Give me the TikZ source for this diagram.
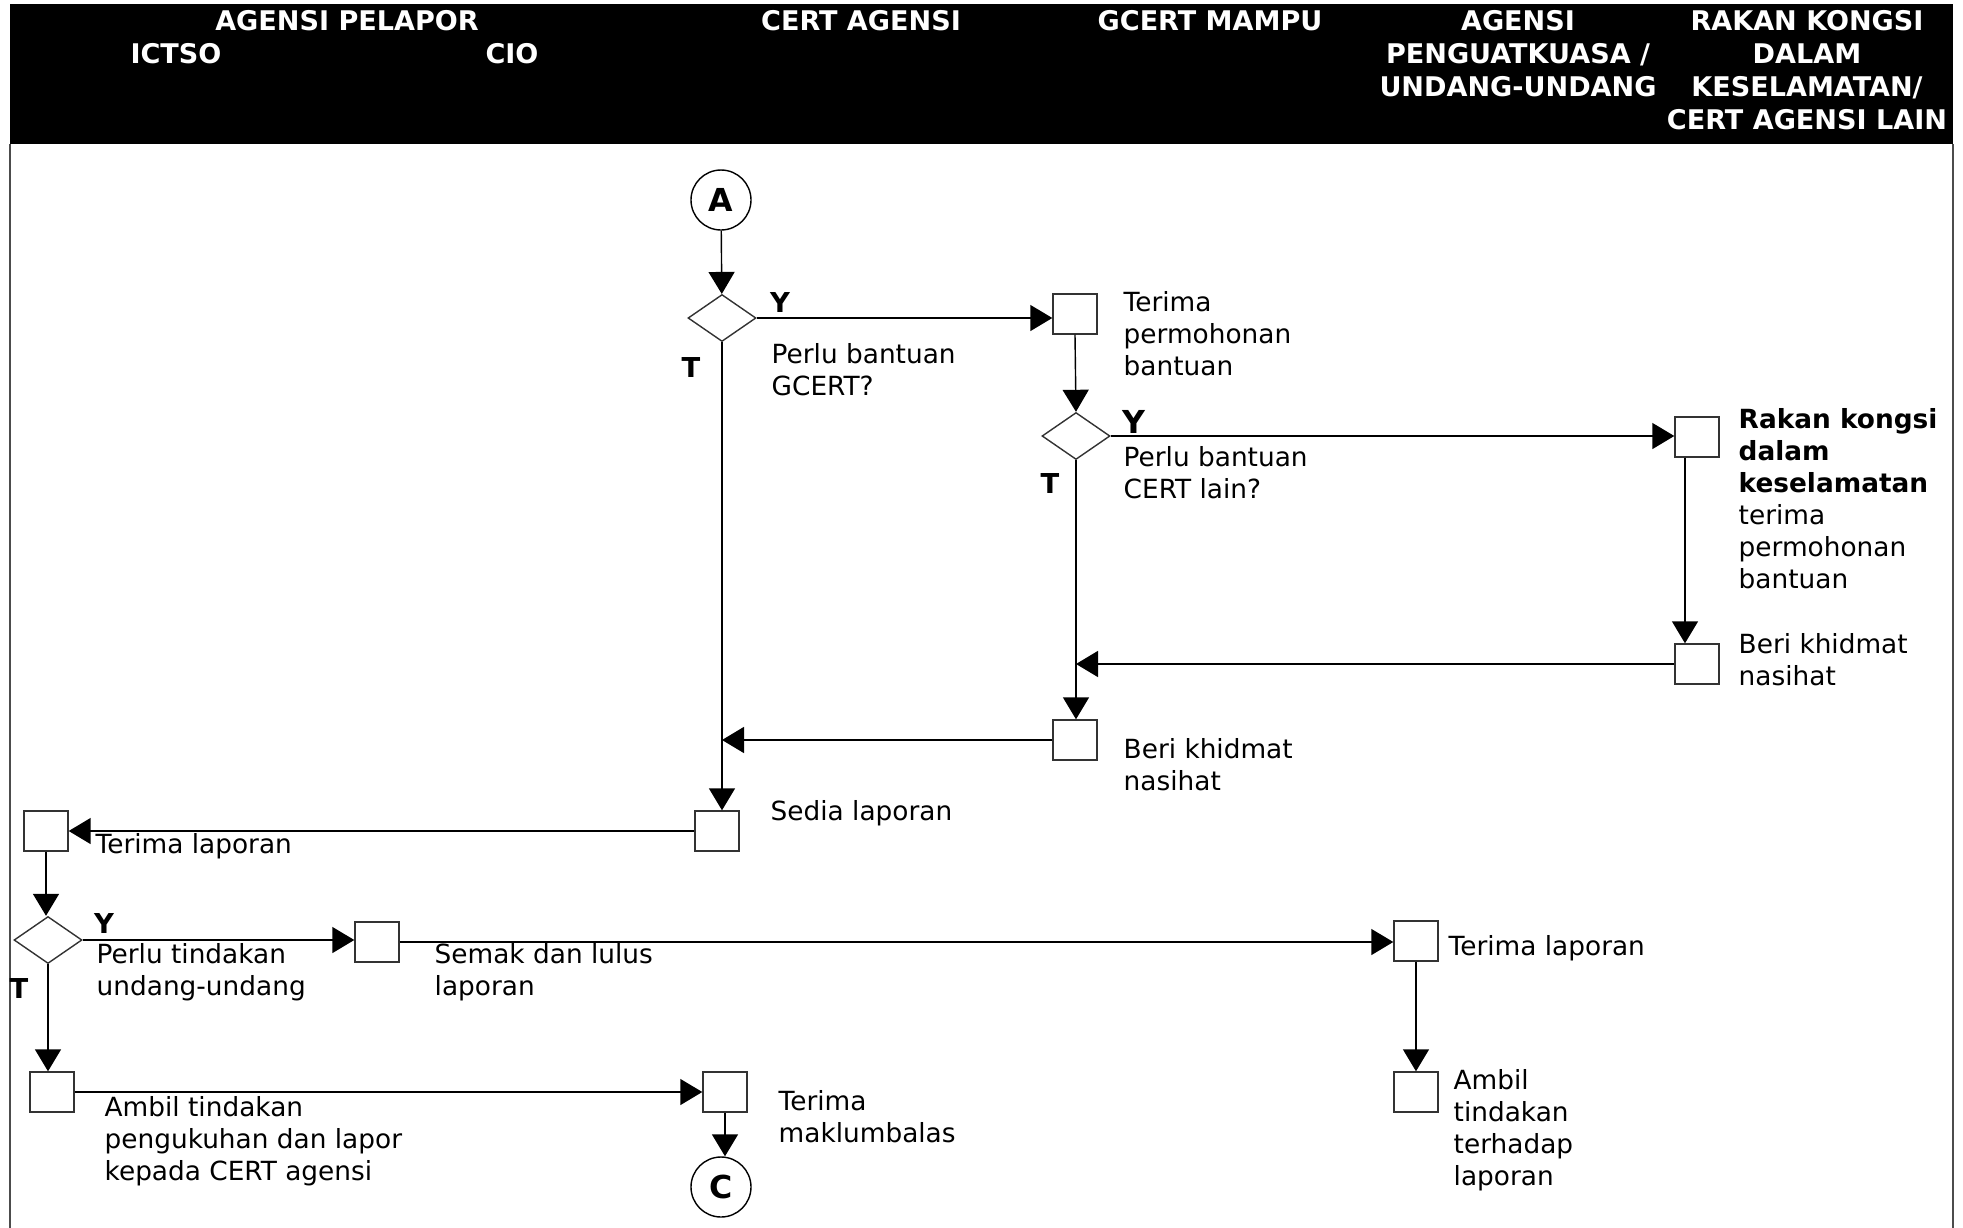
\documentclass[tikz,border=0pt]{standalone}
\usepackage{fontspec}
\setmainfont{DejaVu Sans}
\usetikzlibrary{shapes.geometric,arrows.meta}
\newcommand{\hdrfont}{\fontsize{7.7}{9.4}\selectfont\bfseries}
\newcommand{\txtfont}{\fontsize{7.5}{9.1}\selectfont}
\tikzset{
  box/.style={draw=black!80, rectangle, minimum width=4.4mm, minimum height=4mm, inner sep=0pt, line width=0.4pt},
  decision/.style={draw=black!80, diamond, minimum width=6.8mm, minimum height=4.7mm, inner sep=0pt, line width=0.4pt},
  connector/.style={draw, circle, minimum size=6mm, inner sep=0pt, line width=0.4pt, font=\fontsize{9}{10}\selectfont\bfseries},
  flow/.style={-{Triangle[length=2.2mm,width=2.6mm]}, line width=0.4pt},
  lbl/.style={anchor=west, align=left, inner sep=0pt, font=\txtfont},
  yt/.style={inner sep=0pt, font=\fontsize{7.8}{9}\selectfont\bfseries},
  hdr/.style={text=white, align=center, inner sep=0pt, font=\hdrfont}
}
\begin{document}
\begin{tikzpicture}[x=0.1mm, y=-0.1mm]
\useasboundingbox (0,0) rectangle (1963,1228);

% header band and lane borders
\fill[black] (10,4) rectangle (1953,144);
\draw[line width=0.5pt, black!70] (10,144) -- (10,1228);
\draw[line width=0.5pt, black!70] (1953,144) -- (1953,1228);

\node[hdr] (hPelapor) at (347,21) {AGENSI PELAPOR};
\node[hdr] (hIctso) at (176,54) {ICTSO};
\node[hdr] (hCio) at (512,54) {CIO};
\node[hdr] (hCert) at (861,21) {CERT AGENSI};
\node[hdr] (hGcert) at (1210,21) {GCERT MAMPU};
\node[hdr] (hPenguat) at (1518,54) {AGENSI\\PENGUATKUASA /\\UNDANG-UNDANG};
\node[hdr] (hRakan) at (1807,70) {RAKAN KONGSI\\DALAM\\KESELAMATAN/\\CERT AGENSI LAIN};

% steps
\node[connector] (cA) at (721,200) {A};
\node[decision] (d1) at (722,318) {};
\node[box] (b1) at (1075,314) {};
\node[decision] (d2) at (1076,436) {};
\node[box] (b3) at (1697,437) {};
\node[box] (b4) at (1697,664) {};
\node[box] (b5) at (1075,740) {};
\node[box] (b6) at (717,831) {};
\node[box] (b7) at (46,831) {};
\node[decision] (d3) at (48,940) {};
\node[box] (b8) at (377,942) {};
\node[box] (b11) at (1416,941) {};
\node[box] (b12) at (1416,1092) {};
\node[box] (b9) at (52,1092) {};
\node[box] (b10) at (725,1092) {};
\node[connector] (cC) at (721,1187) {C};

% connectors
\draw[flow] (cA) -- (d1);
\draw[flow] (d1.east) -- (d1.east -| b1.west);
\draw[flow] (b1.south) -- (d2.north);
\draw[flow] (d2.east) -- (d2.east -| b3.west);
\draw[flow] ([xshift=-1.2mm]b3.south) -- ([xshift=-1.2mm]b4.north);
\draw[flow] (b4.west) -- (b4.west -| d2.south);
\draw[flow] (d2.south) -- (d2.south |- b5.north);
\draw[flow] (b5.west) -- (b5.west -| d1.south);
\draw[flow] (d1.south) -- (d1.south |- b6.north);
\draw[flow] (b6.west) -- (b6.west -| b7.east);
\draw[flow] (b7.south) -- (b7.south |- d3.north);
\draw[flow] (d3.east) -- (d3.east -| b8.west);
\draw[flow] (b8.east) -- (b8.east -| b11.west);
\draw[flow] (b11.south) -- (b12.north);
\draw[flow] (d3.south) -- (d3.south |- b9.north);
\draw[flow] (b9.east) -- (b9.east -| b10.west);
\draw[flow] (b10.south) -- (b10.south |- cC.north);

% texts
\node[yt] (y1) at (780,302) {Y};
\node[yt] (n1) at (691,367) {T};
\node[yt, font=\fontsize{9}{10}\selectfont\bfseries] (y2) at (1134,422) {Y};
\node[yt] (n2) at (1050,483) {T};
\node[yt] (y3) at (104,923) {Y};
\node[yt] (n3) at (19,988) {T};

\node[lbl] (t1) at (771,370) {Perlu bantuan\\GCERT?};
\node[lbl] (t2) at (1123,334) {Terima\\permohonan\\bantuan};
\node[lbl] (t3) at (1123,473) {Perlu bantuan\\CERT lain?};
\node[lbl] (t4) at (1738,499) {\textbf{Rakan kongsi}\\\textbf{dalam}\\\textbf{keselamatan}\\terima\\permohonan\\bantuan};
\node[lbl] (t5) at (1738,660) {Beri khidmat\\nasihat};
\node[lbl] (t6) at (1123,765) {Beri khidmat\\nasihat};
\node[lbl] (t7) at (770,813) {Sedia laporan};
\node[lbl] (t8) at (95,846) {Terima laporan};
\node[lbl] (t9) at (96,972) {Perlu tindakan\\undang-undang};
\node[lbl] (t10) at (434,972) {Semak dan lulus\\laporan};
\node[lbl] (t11) at (1448,948) {Terima laporan};
\node[lbl] (t12) at (1453,1130) {Ambil\\tindakan\\terhadap\\laporan};
\node[lbl] (t13) at (104,1141) {Ambil tindakan\\pengukuhan dan lapor\\kepada CERT agensi};
\node[lbl] (t14) at (778,1117) {Terima\\maklumbalas};
\end{tikzpicture}
\end{document}
